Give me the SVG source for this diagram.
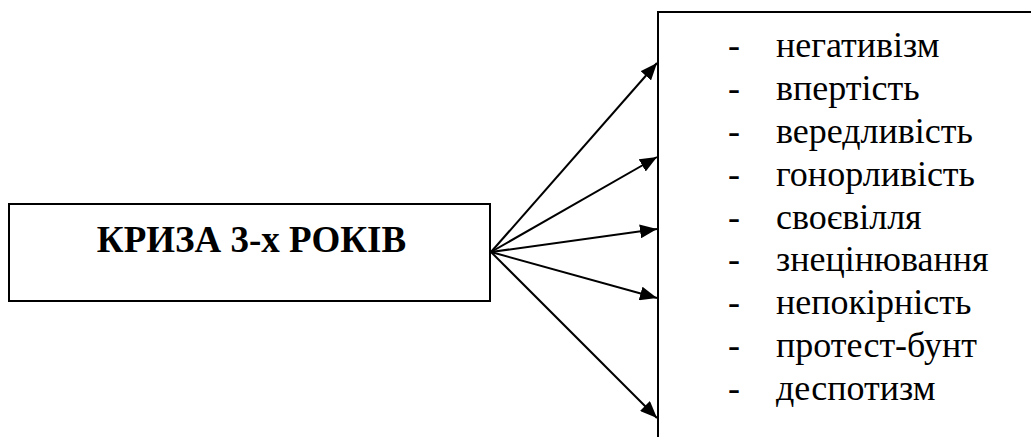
<svg xmlns="http://www.w3.org/2000/svg" width="1031" height="437" viewBox="0 0 1031 437">
  <defs>
    <style>
      .box { fill: #ffffff; stroke: #000000; stroke-width: 2; }
      .conn { stroke: #000000; stroke-width: 2; fill: none; marker-end: url(#arrow); }
      .title { font-family: "Liberation Serif", "Times New Roman", serif; font-weight: bold; font-size: 37px; fill: #000000; }
      .item { font-family: "Liberation Serif", "Times New Roman", serif; font-size: 36px; fill: #000000; }
    </style>
    <marker id="arrow" viewBox="0 0 17 14" refX="17" refY="7" markerWidth="17" markerHeight="14" markerUnits="userSpaceOnUse" orient="auto">
      <path d="M0,0 L17,7 L0,14 z" fill="#000000"/>
    </marker>
  </defs>
  <rect width="1031" height="437" fill="#ffffff"/>
  <g id="node-crisis">
    <rect class="box" x="9" y="204" width="481" height="97"/>
    <text class="title" x="251.5" y="252" text-anchor="middle">КРИЗА 3-х РОКІВ</text>
  </g>
  <g id="node-list">
    <rect class="box" x="658" y="12" width="420" height="460"/>
    <g class="item">
      <text x="728" y="57">-</text><text x="776" y="57">негативізм</text>
      <text x="728" y="100">-</text><text x="776" y="100">впертість</text>
      <text x="728" y="143">-</text><text x="776" y="143">вередливість</text>
      <text x="728" y="186">-</text><text x="776" y="186">гонорливість</text>
      <text x="728" y="229">-</text><text x="776" y="229">своєвілля</text>
      <text x="728" y="271">-</text><text x="776" y="271">знецінювання</text>
      <text x="728" y="314">-</text><text x="776" y="314">непокірність</text>
      <text x="728" y="357">-</text><text x="776" y="357">протест-бунт</text>
      <text x="728" y="400">-</text><text x="776" y="400">деспотизм</text>
    </g>
  </g>
  <g id="connectors">
    <line class="conn" x1="491" y1="252" x2="657" y2="63"/>
    <line class="conn" x1="491" y1="252" x2="657" y2="157"/>
    <line class="conn" x1="491" y1="252" x2="657" y2="229"/>
    <line class="conn" x1="491" y1="252" x2="657" y2="298"/>
    <line class="conn" x1="491" y1="252" x2="657" y2="418"/>
  </g>
</svg>
